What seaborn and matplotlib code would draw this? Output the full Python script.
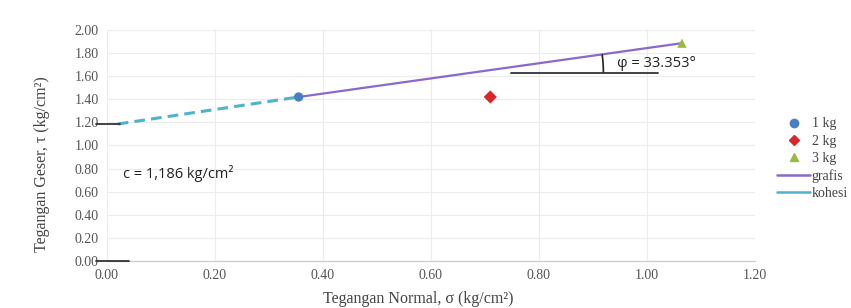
import numpy as np
import pandas as pd
import matplotlib
matplotlib.use("Agg")
import matplotlib.pyplot as plt
from matplotlib.patches import Arc
from matplotlib.lines import Line2D
import seaborn as sns

# ---- data ----
labels = ["1 kg", "2 kg", "3 kg"]
normal_stress = [0.355, 0.710, 1.065]
shear_stress = [1.42, 1.42, 1.886]
grafis_x = [0.355, 1.065]
grafis_y = [1.42, 1.886]
kohesi_x = [0.02, 0.355]
kohesi_y = [1.186, 1.42]
cohesion = 1.186
phi_deg = 33.353
xticks = [0.0, 0.2, 0.4, 0.6, 0.8, 1.0, 1.2]
yticks = [0.0, 0.2, 0.4, 0.6, 0.8, 1.0, 1.2, 1.4, 1.6, 1.8, 2.0]

colors = {"1 kg": "#4a7fc1", "2 kg": "#d9262a", "3 kg": "#9bbb3b"}
markers = {"1 kg": "o", "2 kg": "D", "3 kg": "^"}
grafis_color = "#8a68cc"
kohesi_color = "#4fb3cc"

sns.set_theme(style="white")
plt.rcParams["font.family"] = ["Liberation Serif", "DejaVu Serif"]

fig = plt.figure(figsize=(8.51, 3.08), dpi=100)
ax = fig.add_axes([0.1257, 0.1526, 0.887 - 0.1257, 0.9026 - 0.1526])

df_pts = pd.DataFrame({"x": normal_stress, "y": shear_stress, "beban": labels})
df_g = pd.DataFrame({"x": grafis_x, "y": grafis_y})
df_k = pd.DataFrame({"x": kohesi_x, "y": kohesi_y})

sns.lineplot(data=df_k, x="x", y="y", ax=ax, color=kohesi_color, lw=2.2,
             linestyle=(0, (3.5, 2.0)), zorder=3)
sns.lineplot(data=df_g, x="x", y="y", ax=ax, color=grafis_color, lw=1.6, zorder=3)
sns.scatterplot(data=df_pts, x="x", y="y", hue="beban", style="beban",
                palette=colors, markers=markers, s=45, edgecolor="none",
                ax=ax, zorder=4, legend=False)

ax.set_xlim(0, 1.2)
ax.set_ylim(0, 2.0)
ax.set_xticks(xticks)
ax.set_yticks(yticks)
ax.set_xticklabels([f"{v:.2f}" for v in xticks], fontsize=10, color="#555555")
ax.set_yticklabels([f"{v:.2f}" for v in yticks], fontsize=10, color="#555555")
ax.tick_params(length=0, pad=6)
ax.grid(True, color="#ececec", lw=0.8)
for s in ["top", "right", "left"]:
    ax.spines[s].set_visible(False)
ax.spines["bottom"].set_color("#d0d0d0")
ax.spines["bottom"].set_linewidth(1.0)

ax.set_xlabel("Tegangan Normal, σ (kg/cm²)", fontsize=11.5, color="#444444")
ax.set_ylabel("Tegangan Geser, τ (kg/cm²)", fontsize=11.5, color="#444444")
ax.xaxis.set_label_coords(0.48, -0.13)
ax.yaxis.set_label_coords(-0.088, 0.42)

# annotation lines
ax.plot([-0.02, 0.025], [cohesion, cohesion], color="#333333", lw=1.3, clip_on=False, zorder=5)
ax.plot([-0.02, 0.04], [0.0, 0.0], color="#333333", lw=1.3, clip_on=False, zorder=5)
ax.plot([0.748, 1.02], [1.63, 1.63], color="#333333", lw=1.3, zorder=5)

# angle arc (circular in pixel space; angles given in data space)
cx, cy = 0.675, 1.63
r_px = 132
ppx = (0.887 - 0.1257) * 851
ppy = (0.9026 - 0.1526) * 308
w = 2 * r_px / ppx * 1.2
h = 2 * r_px / ppy * 2.0
arc = Arc((cx, cy), w, h, theta1=0, theta2=phi_deg, color="#222222", lw=1.2, zorder=5)
ax.add_patch(arc)

sans = ["Open Sans", "DejaVu Sans"]
ax.text(0.945, 1.71, f"φ = {phi_deg:.3f}°", fontsize=10.5, family=sans,
        color="#222222", va="center", ha="left")
ax.text(0.03, 0.76, "c = 1,186 kg/cm²", fontsize=10.5, family=sans,
        color="#222222", va="center", ha="left")

handles = [
    Line2D([], [], ls="none", marker="o", color=colors["1 kg"], ms=6),
    Line2D([], [], ls="none", marker="D", color=colors["2 kg"], ms=5),
    Line2D([], [], ls="none", marker="^", color=colors["3 kg"], ms=6),
    Line2D([], [], color=grafis_color, lw=1.8),
    Line2D([], [], color=kohesi_color, lw=1.8),
]
fig.legend(handles, labels + ["grafis", "kohesi"], loc="center left",
           bbox_to_anchor=(0.913, 0.485), frameon=False, fontsize=10,
           labelspacing=0.3, handlelength=2.4, handletextpad=0.1,
           borderaxespad=0, borderpad=0, labelcolor="#444444")

fig.savefig("out.png", dpi=100)
